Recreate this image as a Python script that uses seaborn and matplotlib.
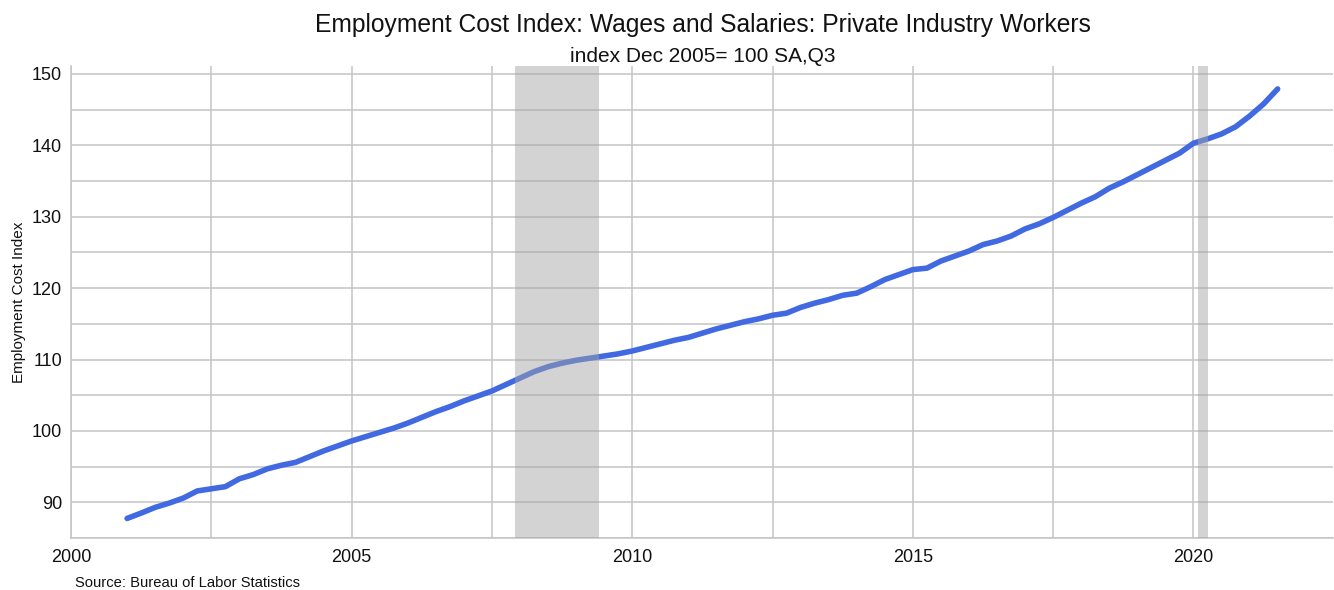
import numpy as np
import pandas as pd
import matplotlib
matplotlib.use("Agg")
import matplotlib.pyplot as plt
from matplotlib.ticker import MultipleLocator
import seaborn as sns

# quarterly index values, 2001 Q1 .. 2021 Q3 (index Dec 2005 = 100)
eci_2001_2005 = [87.75, 88.5, 89.3, 89.9,
                 90.6, 91.6, 91.9, 92.2,
                 93.3, 93.9, 94.7, 95.2,
                 95.6, 96.4, 97.2, 97.9,
                 98.6, 99.2, 99.8, 100.4]
eci_2006_2010 = [101.1, 101.9, 102.7, 103.4,
                 104.2, 104.9, 105.6, 106.5,
                 107.4, 108.3, 109.0, 109.5,
                 109.9, 110.2, 110.5, 110.8,
                 111.2, 111.7, 112.2, 112.7]
eci_2011_2015 = [113.1, 113.7, 114.3, 114.8,
                 115.3, 115.7, 116.2, 116.5,
                 117.3, 117.9, 118.4, 119.0,
                 119.3, 120.2, 121.2, 121.9,
                 122.6, 122.8, 123.8, 124.5]
eci_2016_2021 = [125.2, 126.1, 126.6, 127.3,
                 128.3, 129.0, 129.9, 130.9,
                 131.9, 132.8, 134.0, 134.9,
                 135.9, 136.9, 137.9, 138.9,
                 140.3, 140.9, 141.6, 142.6,
                 144.1, 145.8, 147.9]

recessions = [("2007-12-01", "2009-06-01"), ("2020-02-01", "2020-04-01")]

title = "Employment Cost Index: Wages and Salaries: Private Industry Workers"
subtitle = "index Dec 2005= 100 SA,Q3"
ylabel = "Employment Cost Index"
source = "Source: Bureau of Labor Statistics"


def decimal_year(d):
    d = pd.Timestamp(d)
    return d.year + (d.month - 1) / 12


values = eci_2001_2005 + eci_2006_2010 + eci_2011_2015 + eci_2016_2021
dates = pd.date_range("2001-01-01", periods=len(values), freq="QS")
df = pd.DataFrame({"year": [decimal_year(d) for d in dates], "eci": values})

sns.set_theme(style="whitegrid")
plt.rcParams["font.family"] = ["Liberation Sans", "DejaVu Sans"]

fig = plt.figure(figsize=(13.34, 5.9), dpi=100)
ax = fig.add_axes([0.0532, 0.088, 0.9458, 0.80])

sns.lineplot(data=df, x="year", y="eci", ax=ax, color="#4169e1", linewidth=4, zorder=3)

# recession bands drawn over the line, semi-transparent
for start, end in recessions:
    ax.axvspan(decimal_year(start), decimal_year(end), color="#a3a3a3", alpha=0.47,
               linewidth=0, zorder=4)

ax.set_xlim(2000, 2022.48)
ax.set_ylim(85, 151.1)
ax.xaxis.set_major_locator(MultipleLocator(5))
ax.xaxis.set_minor_locator(MultipleLocator(2.5))
ax.yaxis.set_major_locator(MultipleLocator(10))
ax.yaxis.set_minor_locator(MultipleLocator(5))
ax.grid(which="both", color="#c4c4c4", linewidth=1.1)
ax.set_axisbelow(True)

for side in ["top", "right"]:
    ax.spines[side].set_visible(False)
for side in ["left", "bottom"]:
    ax.spines[side].set_color("#c4c4c4")
    ax.spines[side].set_linewidth(1.1)

ax.tick_params(axis="both", which="both", length=0, labelsize=13, colors="#111111")
ax.tick_params(axis="y", pad=6.5)
ax.tick_params(axis="x", pad=8)
ax.set_xlabel("")
ax.set_ylabel(ylabel, fontsize=11, labelpad=4, color="#111111")

axes_center = (71 + 1334) / 2 / 1334
fig.text(axes_center, 1 - 25 / 590, title, ha="center", va="center",
         fontsize=17.7, color="#111111")
fig.text(axes_center, 1 - 57 / 590, subtitle, ha="center", va="center",
         fontsize=15, color="#111111")
fig.text(75 / 1334, 1 - 583 / 590, source, ha="left", va="center", fontsize=10.6,
         color="#111111")

fig.savefig("out.png", dpi=100, facecolor="white")
